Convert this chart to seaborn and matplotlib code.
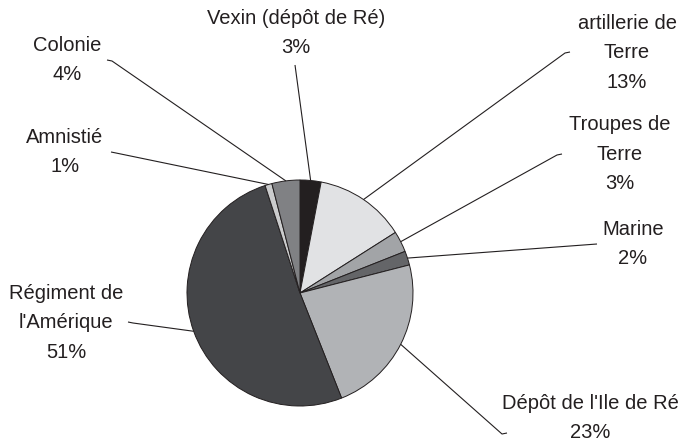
import matplotlib
matplotlib.use("Agg")
import numpy as np
import matplotlib.pyplot as plt
import seaborn as sns

# Donnees du graphique (sens horaire depuis le haut)
categories = ["Vexin (dépôt de Ré)", "artillerie de\nTerre", "Troupes de\nTerre", "Marine",
              "Dépôt de l'Ile de Ré", "Régiment de\nl'Amérique", "Amnistié", "Colonie"]
pourcentages = [3, 13, 3, 2, 23, 51, 1, 4]
couleurs = ["#231f20", "#e1e2e4", "#a2a4a7", "#646568",
            "#b1b3b6", "#444548", "#cbcccd", "#808184"]

# Position des etiquettes (pixels, y vers le bas) et debut des traits de rappel
pos_etiquettes = [(296, 33), (627, 53), (620, 154), (633, 244),
                  (590, 418), (66, 323), (65, 152), (67, 60)]
debut_traits = [(295, 65), (570, 52), (562, 154), (597, 244),
                (507, 433), (128, 322), (111, 152), (107, 60)]
paliers = [0, -5, -5, 0, -5, 5, 5, 5]

sns.set_theme(style="white")
plt.rcParams['font.family'] = ['Liberation Sans', 'DejaVu Sans']

W, H = 684, 442
fig = plt.figure(figsize=(W / 100, H / 100), dpi=100)
ax = fig.add_axes([0, 0, 1, 1])

centre = (300, 293)
rayon = 113

# axe y inverse : counterclock=True donne le sens horaire a l'ecran
wedges, _ = ax.pie(pourcentages, colors=couleurs, startangle=-90, counterclock=True,
                   center=centre, radius=rayon,
                   wedgeprops=dict(edgecolor="#231f20", linewidth=0.7))

ax.set_xlim(0, W)
ax.set_ylim(H, 0)
ax.set_aspect('equal')
ax.axis('off')

for w, cat, pct, (tx, ty), (lx, ly), dx in zip(wedges, categories, pourcentages,
                                                pos_etiquettes, debut_traits, paliers):
    ang = np.deg2rad((w.theta1 + w.theta2) / 2)
    px = centre[0] + rayon * np.cos(ang)
    py = centre[1] + rayon * np.sin(ang)
    # petit palier horizontal vers le camembert
    ax.plot([lx, lx + dx, px], [ly, ly + (1 if dx else 0), py], color="#231f20", lw=0.8,
            solid_capstyle='butt')
    ax.text(tx, ty, f"{cat}\n{pct}%", ha='center', va='center', fontsize=14.5,
            color="#231f20", linespacing=1.72)

fig.savefig("out.png", dpi=100, facecolor="white")
